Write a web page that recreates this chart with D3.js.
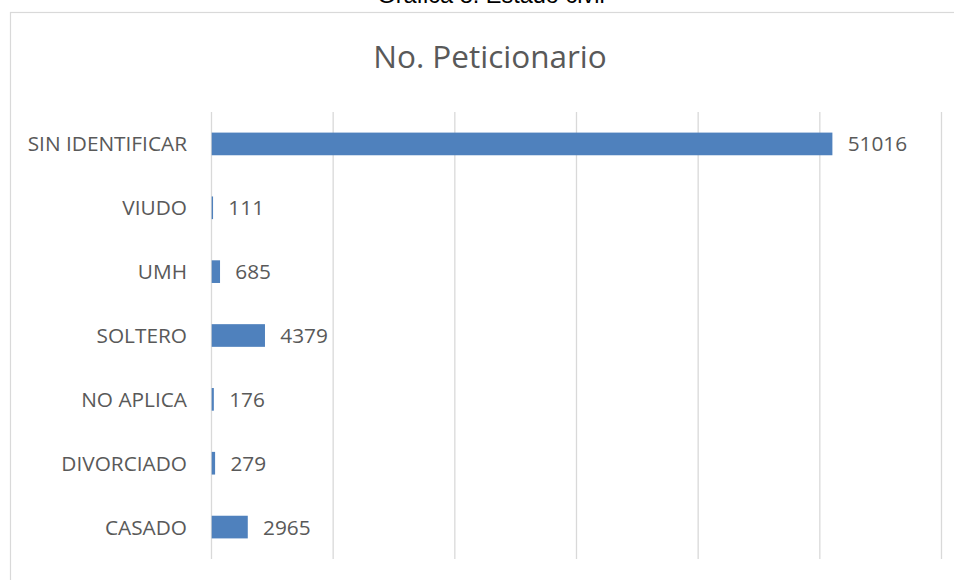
<!DOCTYPE html>
<html>
<head>
<meta charset="utf-8">
<script src="https://cdn.jsdelivr.net/npm/d3@7"></script>
<style>
  html, body { margin: 0; padding: 0; background: #ffffff; }
  svg { display: block; }
</style>
</head>
<body>
<svg id="chart" width="954" height="580"></svg>
<script>
// ---- data ----
const categories = ["CASADO", "DIVORCIADO", "NO APLICA", "SOLTERO", "UMH", "VIUDO", "SIN IDENTIFICAR"];
const values = [2965, 279, 176, 4379, 685, 111, 51016];
const xTicks = [0, 10000, 20000, 30000, 40000, 50000, 60000];
const chartTitle = "No. Peticionario";
const figureCaption = "Gráfica 8. Estado civil";

// ---- layout ----
const W = 954, H = 580;
const plot = { left: 211, right: 941, top: 112, bottom: 559 };
const font = "'Open Sans', 'Noto Sans', sans-serif";
const textColor = "#595959";
const gridColor = "#d9d9d9";
const barColor = "#4f81bd";

const svg = d3.select("#chart");

// figure caption (cut off at top)
svg.append("text")
  .attr("x", 491).attr("y", 3)
  .attr("text-anchor", "middle")
  .attr("font-family", "'Liberation Sans', Arial, sans-serif")
  .attr("font-size", 23.5)
  .attr("fill", "#000")
  .text(figureCaption);

// chart area border (only left & top visible)
svg.append("rect")
  .attr("x", 10.5).attr("y", 12.5)
  .attr("width", 1000).attr("height", 1000)
  .attr("fill", "none")
  .attr("stroke", gridColor)
  .attr("stroke-width", 1.2);

// chart title
svg.append("text")
  .attr("x", 490).attr("y", 68)
  .attr("text-anchor", "middle")
  .attr("font-family", font)
  .attr("font-size", 31.5)
  .attr("fill", textColor)
  .text(chartTitle);

const x = d3.scaleLinear()
  .domain([xTicks[0], xTicks[xTicks.length - 1]])
  .range([plot.left, plot.right]);

const pad = 0.645;
const y = d3.scaleBand()
  .domain(categories)
  .range([plot.bottom, plot.top])
  .paddingInner(pad)
  .paddingOuter(pad / 2);

// gridlines
const grid = d3.axisBottom(x)
  .tickValues(xTicks)
  .tickSize(-(plot.bottom - plot.top))
  .tickFormat("");
svg.append("g")
  .attr("transform", `translate(0,${plot.bottom})`)
  .call(grid)
  .call(g => g.select(".domain").remove())
  .call(g => g.selectAll(".tick line")
    .attr("stroke", gridColor)
    .attr("stroke-width", 1.3));

// bars
const data = categories.map((c, i) => ({ cat: c, val: values[i] }));
svg.append("g").selectAll("rect")
  .data(data)
  .join("rect")
  .attr("x", x(0) + 0.7)
  .attr("y", d => y(d.cat))
  .attr("width", d => Math.max(0, x(d.val) - x(0)))
  .attr("height", y.bandwidth())
  .attr("fill", barColor);

// category labels (y axis)
const yAxis = d3.axisLeft(y).tickSize(0).tickPadding(0);
svg.append("g")
  .attr("transform", `translate(187,0)`)
  .call(yAxis)
  .call(g => g.select(".domain").remove())
  .call(g => g.selectAll(".tick text")
    .attr("x", 0)
    .attr("dy", "0.36em")
    .attr("font-family", font)
    .attr("font-size", 20.8)
    .attr("fill", textColor));

// data labels
svg.append("g").selectAll("text")
  .data(data)
  .join("text")
  .attr("x", d => x(d.val) + 16)
  .attr("y", d => y(d.cat) + y.bandwidth() / 2)
  .attr("dy", "0.36em")
  .attr("font-family", font)
  .attr("font-size", 20.8)
  .attr("fill", textColor)
  .text(d => d.val);
</script>
</body>
</html>
